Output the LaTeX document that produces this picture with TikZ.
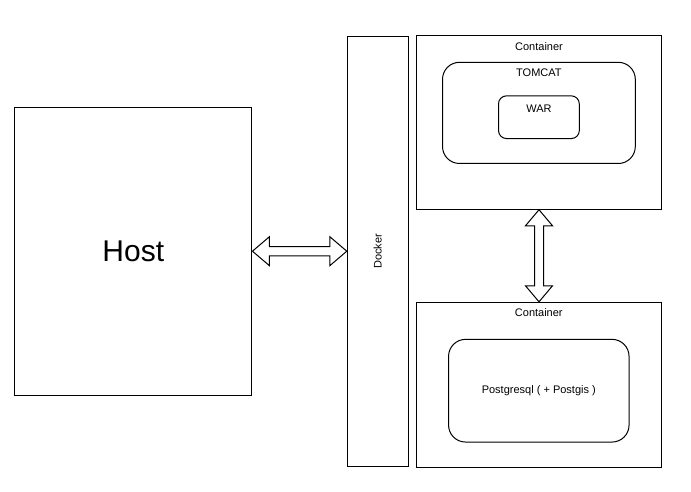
\documentclass[tikz,border=0pt]{standalone}
\usepackage{fontspec}
\setmainfont{Liberation Sans}
\usetikzlibrary{positioning,calc}
\tikzset{
  box/.style={draw, line width=1pt, inner sep=0pt},
  rbox/.style={box, rounded corners=17pt},
  wrap/.style={line width=1pt, fill=white, line join=miter},
  small/.style={font=\fontsize{11}{13}\selectfont},
  top/.style={label={[small, anchor=base, yshift=-15pt]north:#1}},
}
\newcommand{\bnode}[6][]{\node [box, minimum width=#4pt, minimum height=#5pt, #1] (#2) at (#3) {#6}}

\begin{document}
\begin{tikzpicture}[x=1pt, y=-1pt]
\useasboundingbox (0,0) rectangle (691,492);

\bnode[font=\fontsize{30}{34}\selectfont]{HOST}{133.3,251.2}{237.3}{287.7}{Host};
\bnode[label={[small, rotate=90, anchor=center]center:Docker}]{DOCKER}{377.8,251.5}{61}{429.6}{};
\bnode[top=Container]{CONT1}{539,122.5}{245}{173.5}{};
\bnode[rbox, top=TOMCAT]{TOMCAT}{538.9,112.9}{192.8}{101.2}{};
\bnode[box, rounded corners=8pt, label={[small, anchor=base, yshift=-17pt]north:WAR}]{WAR}{538.9,117.2}{80.8}{42.7}{};
\bnode[top=Container]{CONT2}{538.8,384.9}{244.5}{165.2}{};
\bnode[rbox, small]{PG}{538.8,390.7}{180.5}{102.7}{Postgresql ( + Postgis )};

% host <-> docker
\draw[wrap] let \p1=(HOST.east), \p2=(DOCKER.west) in
  (\x1,\y1) -- (\x1+17pt,\y1+14.5pt) -- (\x1+17pt,\y1+4.7pt) -- (\x2-17pt,\y1+4.7pt)
  -- (\x2-17pt,\y1+14.5pt) -- (\x2,\y1) -- (\x2-17pt,\y1-14.5pt) -- (\x2-17pt,\y1-4.7pt)
  -- (\x1+17pt,\y1-4.7pt) -- (\x1+17pt,\y1-14.5pt) -- cycle;

% container <-> container
\draw[wrap] let \p1=(CONT1.south), \p2=(CONT2.north) in
  (\x1,\y1) -- (\x1-13.5pt,\y1-16pt) -- (\x1-4.5pt,\y1-16pt) -- (\x1-4.5pt,\y2+16pt)
  -- (\x1-13.5pt,\y2+16pt) -- (\x1,\y2) -- (\x1+13.5pt,\y2+16pt) -- (\x1+4.5pt,\y2+16pt)
  -- (\x1+4.5pt,\y1-16pt) -- (\x1+13.5pt,\y1-16pt) -- cycle;

\end{tikzpicture}
\end{document}
